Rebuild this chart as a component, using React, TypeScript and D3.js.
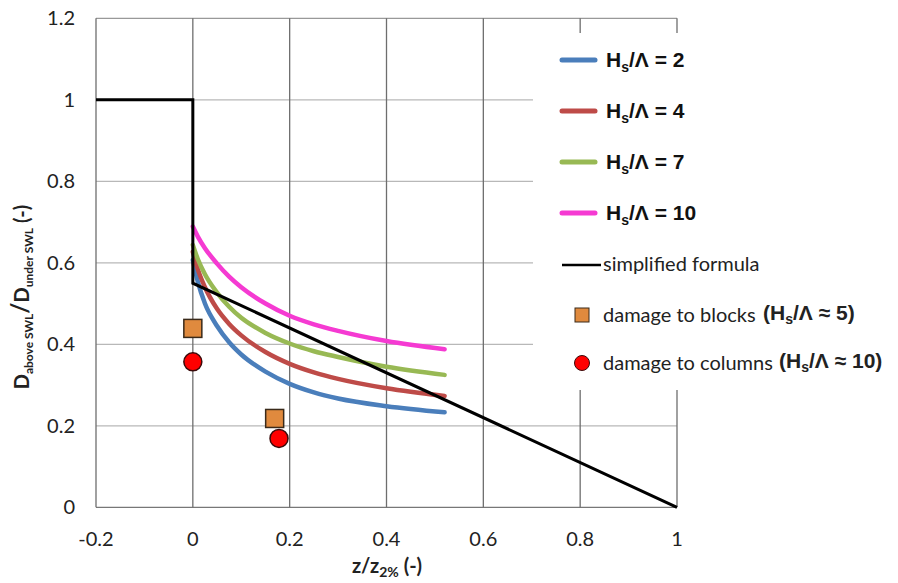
import React from "react";
import * as d3 from "d3";

const xTickValues = [-0.2, 0, 0.2, 0.4, 0.6, 0.8, 1];
const xTickLabels = ["-0.2", "0", "0.2", "0.4", "0.6", "0.8", "1"];
const yTickValues = [0, 0.2, 0.4, 0.6, 0.8, 1, 1.2];
const yTickLabels = ["0", "0.2", "0.4", "0.6", "0.8", "1", "1.2"];

const curveX = [0, 0.01, 0.025, 0.05, 0.075, 0.1, 0.15, 0.2, 0.25, 0.3, 0.4, 0.52];
const hs2 = [0.607, 0.555, 0.5, 0.445, 0.405, 0.375, 0.333, 0.303, 0.282, 0.267, 0.248, 0.233];
const hs4 = [0.627, 0.585, 0.54, 0.487, 0.45, 0.422, 0.381, 0.352, 0.331, 0.315, 0.292, 0.273];
const hs7 = [0.644, 0.61, 0.572, 0.527, 0.492, 0.465, 0.428, 0.402, 0.383, 0.369, 0.345, 0.325];
const hs10 = [0.689, 0.665, 0.636, 0.598, 0.566, 0.54, 0.5, 0.47, 0.449, 0.433, 0.408, 0.388];

const seriesNames = ["2", "4", "7", "10"];
const seriesColors = ["#4a7ebb", "#be4b48", "#98b954", "#f53ad2"];

const simpleX = [-0.2, 0, 0, 1];
const simpleY = [1, 1, 0.55, 0];

const blocksX = [0, 0.169];
const blocksY = [0.439, 0.218];
const columnsX = [0, 0.178];
const columnsY = [0.357, 0.169];

export default function App() {
  const x = d3.scaleLinear().domain([-0.2, 1]).range([96, 677]);
  const y = d3.scaleLinear().domain([0, 1.2]).range([507.3, 18.3]);
  const series = [hs2, hs4, hs7, hs10];
  const line = d3
    .line<[number, number]>()
    .x((d) => x(d[0]))
    .y((d) => y(d[1]))
    .curve(d3.curveMonotoneX);
  const straight = d3
    .line<[number, number]>()
    .x((d) => x(d[0]))
    .y((d) => y(d[1]));
  const simplePts: [number, number][] = simpleX.map((v, i) => [v, simpleY[i]]);
  const sans = "Lato, 'Open Sans', sans-serif";
  const arial = "'Liberation Sans', Arial, sans-serif";
  const legendRows = [60, 111, 162, 213];

  return (
    <div style={{ position: "fixed", left: 0, top: 0 }}>
      <svg width={898} height={583} style={{ display: "block", background: "#fff" }}>
        <rect x={0} y={0} width={898} height={583} fill="#fff" />
        {/* horizontal gridlines */}
        {yTickValues.map((v) => (
          <line
            key={"h" + v}
            x1={96}
            x2={677}
            y1={y(v)}
            y2={y(v)}
            stroke={v === 0 ? "#777" : v === 1.2 ? "#999" : "#b8b8b8"}
            strokeWidth={1.3}
          />
        ))}
        {/* vertical gridlines */}
        {xTickValues.map((v) => (
          <line
            key={"v" + v}
            x1={x(v)}
            x2={x(v)}
            y1={y(1.2)}
            y2={y(0)}
            stroke="#6e6e6e"
            strokeWidth={1.3}
          />
        ))}
        {/* legend background */}
        <rect x={533} y={33} width={365} height={357} fill="#fff" />
        {/* tick labels */}
        {xTickValues.map((v, i) => (
          <text
            key={"xt" + v}
            x={x(v)}
            y={546}
            textAnchor="middle"
            fontFamily={sans}
            fontSize={20}
            fill="#222"
          >
            {xTickLabels[i]}
          </text>
        ))}
        {yTickValues.map((v, i) => (
          <text
            key={"yt" + v}
            x={75}
            y={y(v) + 7}
            textAnchor="end"
            fontFamily={sans}
            fontSize={20}
            fill="#222"
          >
            {yTickLabels[i]}
          </text>
        ))}
        {/* axis titles */}
        <text x={387} y={573} textAnchor="middle" fontFamily={sans} fontWeight="bold" fontSize={20} fill="#222">
          z/z<tspan fontSize={14} dy={4}>2%</tspan>
          <tspan dy={-4}>{"  (-)"}</tspan>
        </text>
        <text
          transform="translate(29,297) rotate(-90)"
          textAnchor="middle"
          fontFamily={sans}
          fontWeight="bold"
          fontSize={20}
          fill="#222"
        >
          D<tspan fontSize={12} dy={4}>above SWL</tspan>
          <tspan dy={-4} fontSize={24}>/</tspan>D<tspan fontSize={12} dy={4}>under SWL</tspan>
          <tspan dy={-4}>{"  (-)"}</tspan>
        </text>
        {/* curves */}
        {series.map((s, i) => (
          <path
            key={"s" + i}
            d={line(curveX.map((v, j) => [v, s[j]]) as [number, number][]) || ""}
            fill="none"
            stroke={seriesColors[i]}
            strokeWidth={4.5}
            strokeLinecap="round"
          />
        ))}
        {/* simplified formula */}
        <path d={straight(simplePts) || ""} fill="none" stroke="#000" strokeWidth={3} />
        {/* markers */}
        {blocksX.map((v, i) => (
          <rect
            key={"b" + i}
            x={x(v) - 9}
            y={y(blocksY[i]) - 9}
            width={18}
            height={18}
            fill="#e08a3e"
            stroke="#3a2a1a"
            strokeWidth={1.5}
          />
        ))}
        {columnsX.map((v, i) => (
          <circle
            key={"c" + i}
            cx={x(v)}
            cy={y(columnsY[i])}
            r={9}
            fill="#ff0000"
            stroke="#3a0a0a"
            strokeWidth={1.5}
          />
        ))}
        {/* legend */}
        {seriesNames.map((n, i) => (
          <g key={"l" + i}>
            <line
              x1={562}
              x2={595}
              y1={legendRows[i]}
              y2={legendRows[i]}
              stroke={seriesColors[i]}
              strokeWidth={5}
              strokeLinecap="round"
            />
            <text x={606} y={legendRows[i] + 7} fontFamily={arial} fontWeight="bold" fontSize={21} fill="#111">
              H<tspan fontSize={14} dy={5}>s</tspan>
              <tspan dy={-5}>{"/Λ = " + n}</tspan>
            </text>
          </g>
        ))}
        <line x1={562} x2={601} y1={265} y2={265} stroke="#000" strokeWidth={2.5} />
        <text x={603} y={271} fontFamily={sans} fontSize={20} fill="#222">
          simplified formula
        </text>
        <rect x={575} y={308} width={14} height={14} fill="#e08a3e" stroke="#3a2a1a" strokeWidth={1} />
        <text x={603} y={322} fontFamily={sans} fontSize={20} fill="#222">
          damage to blocks
        </text>
        <text x={763} y={320} fontFamily={arial} fontWeight="bold" fontSize={21} fill="#222">
          (H<tspan fontSize={14} dy={4}>s</tspan>
          <tspan dy={-4}>{"/Λ ≈ 5)"}</tspan>
        </text>
        <circle cx={582} cy={363} r={7.5} fill="#ff0000" stroke="#3a0a0a" strokeWidth={1} />
        <text x={603} y={370} fontFamily={sans} fontSize={20} fill="#222">
          damage to columns
        </text>
        <text x={779} y={368} fontFamily={arial} fontWeight="bold" fontSize={21} fill="#222">
          (H<tspan fontSize={14} dy={4}>s</tspan>
          <tspan dy={-4}>{"/Λ ≈ 10)"}</tspan>
        </text>
      </svg>
    </div>
  );
}
